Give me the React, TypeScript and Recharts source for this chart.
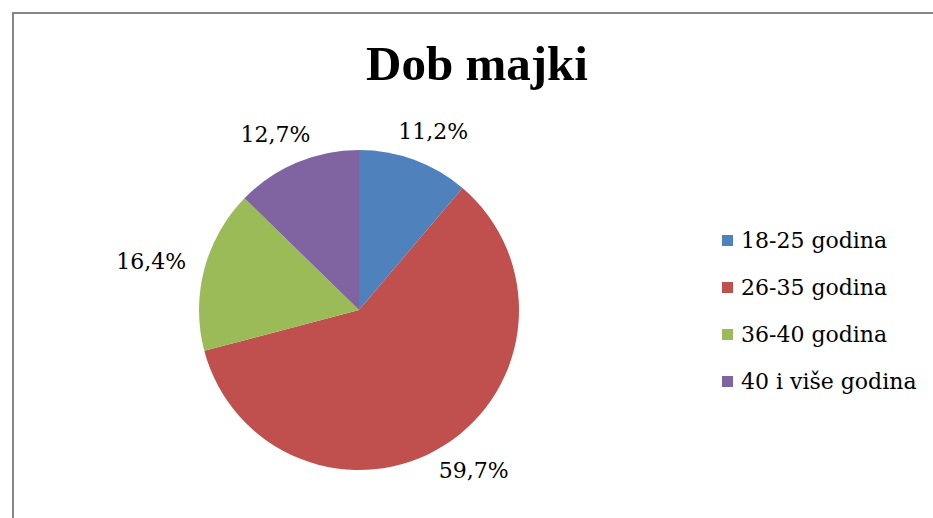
import { PieChart, Pie, Cell, Legend } from "recharts";

const categories = ["18-25 godina", "26-35 godina", "36-40 godina", "40 i više godina"];
const shares = [11.2, 59.7, 16.4, 12.7];
const shareLabels = ["11,2%", "59,7%", "16,4%", "12,7%"];
const colors = ["#4F81BD", "#C0504D", "#9BBB59", "#8064A2"];

const data = categories.map((name, i) => ({ name, value: shares[i], label: shareLabels[i] }));

const RAD = Math.PI / 180;
const labelFont = "'DejaVu Serif', serif";

// Excel-style outside-end labels, roughly on an ellipse around the pie
function renderLabel(props: any) {
  const { cx, cy, midAngle, outerRadius, index } = props;
  const rx = outerRadius + 55;
  const ry = outerRadius + 30;
  const x = cx + rx * Math.cos(-midAngle * RAD);
  const y = cy + ry * Math.sin(-midAngle * RAD);
  return (
    <text
      x={x}
      y={y}
      textAnchor="middle"
      dominantBaseline="central"
      fontFamily={labelFont}
      fontSize={22}
      fill="#000"
    >
      {data[index].label}
    </text>
  );
}

function LegendList() {
  return (
    <div style={{ fontFamily: labelFont, fontSize: 22, color: "#000" }}>
      {data.map((d, i) => (
        <div key={d.name} style={{ display: "flex", alignItems: "center", height: 47, whiteSpace: "nowrap" }}>
          <span style={{ width: 11, height: 11, background: colors[i], marginRight: 8, display: "inline-block" }} />
          <span>{d.name}</span>
        </div>
      ))}
    </div>
  );
}

export default function App() {
  return (
    <div style={{ position: "absolute", left: 0, top: 0, width: 933, height: 518, overflow: "hidden", background: "#fff" }}>
      <div
        style={{
          position: "absolute",
          left: 12,
          top: 12,
          width: 960,
          height: 560,
          border: "2px solid #868686",
          boxSizing: "border-box",
        }}
      />
      <div
        style={{
          position: "absolute",
          left: 0,
          top: 40,
          width: 954,
          textAlign: "center",
          fontFamily: "'Liberation Serif', serif",
          fontWeight: "bold",
          fontSize: 49,
          lineHeight: "48px",
          color: "#000",
        }}
      >
        Dob majki
      </div>
      <div style={{ position: "absolute", left: 0, top: 0 }}>
        <PieChart width={933} height={518} margin={{ top: 0, right: 0, bottom: 0, left: 0 }}>
          <Pie
            data={data}
            dataKey="value"
            nameKey="name"
            cx={359}
            cy={310}
            outerRadius={160}
            startAngle={90}
            endAngle={-270}
            stroke="none"
            label={renderLabel}
            labelLine={false}
            isAnimationActive={false}
          >
            {data.map((d, i) => (
              <Cell key={d.name} fill={colors[i]} />
            ))}
          </Pie>
          <Legend
            layout="vertical"
            content={() => <LegendList />}
            wrapperStyle={{ left: 722, top: 217, width: 200 }}
          />
        </PieChart>
      </div>
    </div>
  );
}
